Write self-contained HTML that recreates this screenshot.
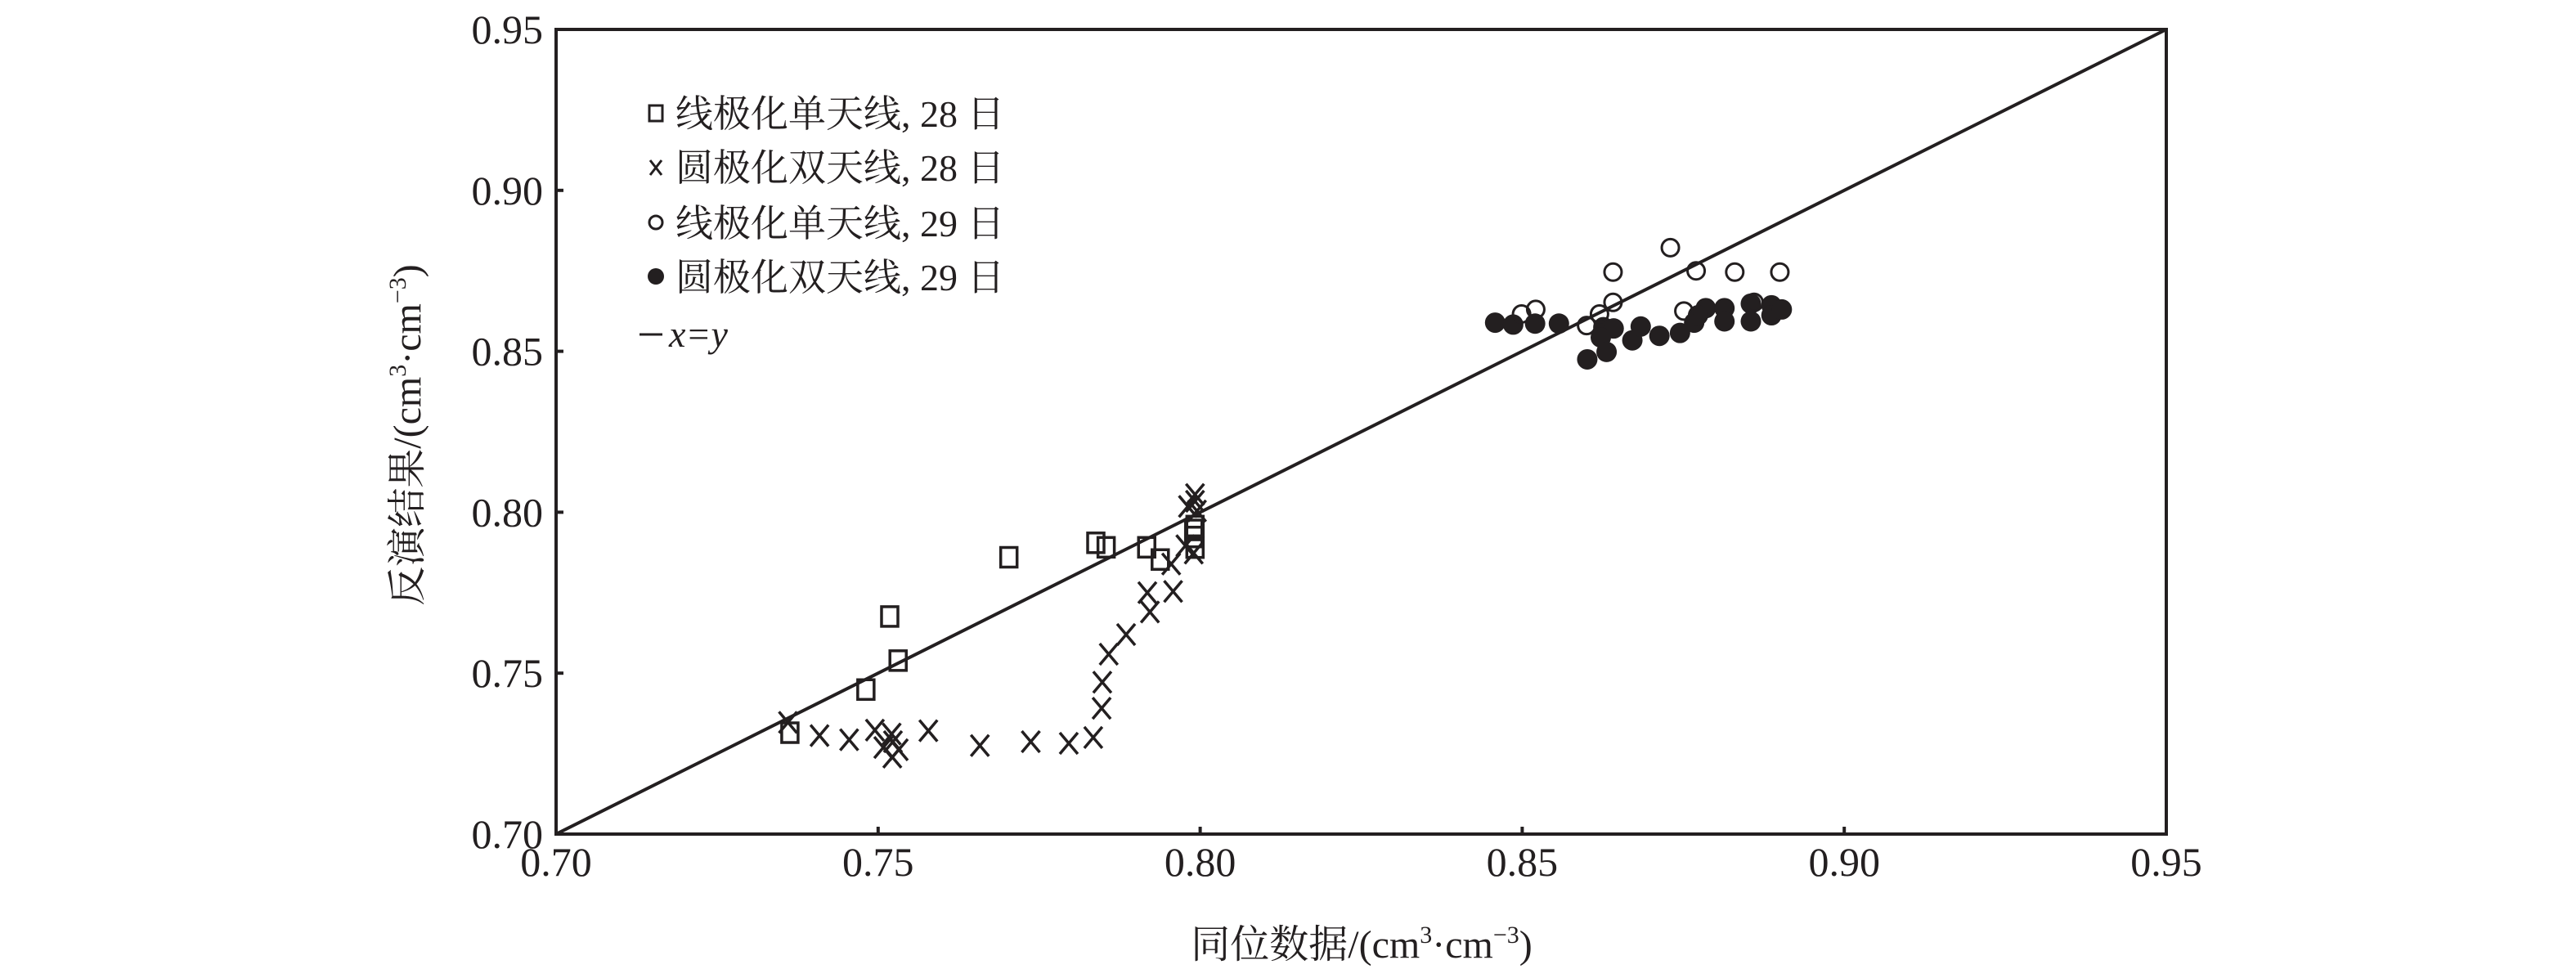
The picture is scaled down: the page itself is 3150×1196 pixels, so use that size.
<!DOCTYPE html>
<html><head><meta charset="utf-8"><style>
html,body{margin:0;padding:0;background:#fff;}
svg text{font-family:"Liberation Serif","Noto Serif CJK SC",serif;fill:#231f20;}
</style></head><body>
<svg id="chart" width="3150" height="1191" viewBox="0 0 3150 1191" xmlns="http://www.w3.org/2000/svg" font-family="'Liberation Serif','Noto Serif CJK SC',serif">
<rect width="3150" height="1191" fill="#fff"/>
<g id="marks"></g>
<g id="axes"></g>
</svg>
<script>
const xTicks=[0.70,0.75,0.80,0.85,0.90,0.95];
const yTicks=[0.70,0.75,0.80,0.85,0.90,0.95];
const tickLabels=["0.70","0.75","0.80","0.85","0.90","0.95"];
const sq28X=[0.7363,0.7481,0.7531,0.7518,0.7703,0.7838,0.7854,0.7917,0.7938,0.7992,0.7990,0.7990,0.7992];
const sq28Y=[0.7315,0.7449,0.7539,0.7676,0.7860,0.7905,0.7891,0.7891,0.7853,0.7890,0.7945,0.7923,0.7957];
const cr28X=[0.7360,0.7409,0.7455,0.7495,0.7521,0.7523,0.7508,0.7532,0.7522,0.7578,0.7658,0.7737,0.7796,0.7834,0.7847,0.7848,0.7858,0.7885,0.7922,0.7918,0.7958,0.7955,0.7977,0.7981,0.7992,0.7995,0.7990,0.7992];
const cr28Y=[0.7347,0.7306,0.7293,0.7323,0.7311,0.7287,0.7269,0.7262,0.7239,0.7321,0.7275,0.7287,0.7282,0.7300,0.7391,0.7472,0.7559,0.7620,0.7690,0.7750,0.7754,0.7839,0.7896,0.8018,0.8055,0.8004,0.7873,0.8034];
const oc29X=[0.8499,0.8521,0.8600,0.8620,0.8641,0.8641,0.8730,0.8770,0.8830,0.8900,0.8751,0.8860];
const oc29Y=[0.8616,0.8630,0.8580,0.8616,0.8746,0.8652,0.8822,0.8750,0.8746,0.8746,0.8625,0.8652];
const fc29X=[0.8458,0.8486,0.8520,0.8557,0.8626,0.8642,0.8622,0.8631,0.8601,0.8671,0.8684,0.8713,0.8745,0.8767,0.8785,0.8814,0.8814,0.8855,0.8855,0.8887,0.8887,0.8903,0.8773];
const fc29Y=[0.8589,0.8583,0.8586,0.8586,0.8575,0.8571,0.8543,0.8498,0.8475,0.8534,0.8577,0.8548,0.8557,0.8589,0.8634,0.8634,0.8593,0.8648,0.8593,0.8643,0.8612,0.8630,0.8612];

const L=680,R=2649,T=36,B=1020,X0=0.70,X1=0.95,Y0=0.70,Y1=0.95;
const sx=v=>L+(v-X0)/(X1-X0)*(R-L);
const sy=v=>B-(v-Y0)/(Y1-Y0)*(B-T);
const NS="http://www.w3.org/2000/svg";
const marks=document.getElementById('marks'),axes=document.getElementById('axes');
function mk(tag,attrs,parent){const e=document.createElementNS(NS,tag);for(const k in attrs)e.setAttribute(k,attrs[k]);parent.appendChild(e);return e;}
const C="#231f20";
const FF="Liberation Serif, Noto Serif CJK SC, serif";

let ln=mk('line',{x1:sx(0.70),y1:sy(0.70),x2:sx(0.95),y2:sy(0.95),stroke:C,'stroke-width':4},marks);



function drawSquare(x,y,p){return mk('rect',{x:x-10,y:y-12,width:20,height:24,fill:'none',stroke:C,'stroke-width':3.5},p);}
function drawCross(x,y,p){return mk('path',{d:`M${x-11},${y-13}L${x+11},${y+13}M${x+11},${y-13}L${x-11},${y+13}`,stroke:C,'stroke-width':3.5,fill:'none'},p);}
function drawOpen(x,y,p){return mk('circle',{cx:x,cy:y,r:10.5,fill:'none',stroke:C,'stroke-width':3},p);}
function drawFilled(x,y,p){return mk('circle',{cx:x,cy:y,r:12.5,fill:C},p);}

for(let i=0;i<sq28X.length;i++){const e=drawSquare(sx(sq28X[i]),sy(sq28Y[i]),marks);

}
for(let i=0;i<cr28X.length;i++){const e=drawCross(sx(cr28X[i]),sy(cr28Y[i]),marks);

}
for(let i=0;i<fc29X.length;i++){const e=drawFilled(sx(fc29X[i]),sy(fc29Y[i]),marks);

}
for(let i=0;i<oc29X.length;i++){const e=drawOpen(sx(oc29X[i]),sy(oc29Y[i]),marks);

}

let fr=mk('rect',{x:L,y:T,width:R-L,height:B-T,fill:'none',stroke:C,'stroke-width':4},axes);


xTicks.forEach((v,i)=>{const x=sx(v);
 const t=mk('line',{x1:x,y1:B,x2:x,y2:B-9,stroke:C,'stroke-width':4},axes);
 
 
 const tx=mk('text',{x:x,y:1071,'font-size':50,'text-anchor':'middle','font-family':FF},axes);tx.textContent=tickLabels[i];
 
 });
yTicks.forEach((v,i)=>{const y=sy(v);
 const t=mk('line',{x1:L,y1:y,x2:L+9,y2:y,stroke:C,'stroke-width':4},axes);
 
 
 const tx=mk('text',{x:664,y:y+17,'font-size':50,'text-anchor':'end','font-family':FF},axes);tx.textContent=tickLabels[i];
 
 });
</script>
<svg style="position:absolute;left:0;top:0" width="3150" height="1191" font-family="'Liberation Serif','Noto Serif CJK SC',serif">
<g font-size="46" fill="#231f20" font-family="'Liberation Serif','Noto Serif CJK SC',serif">
 <rect x="794" y="129" width="16" height="19" fill="none" stroke="#231f20" stroke-width="3"/>
 <text x="826" y="155">线极化单天线, 28 日</text>
 <path d="M795,196L809,214M809,196L795,214" stroke="#231f20" stroke-width="3"/>
 <text x="826" y="221">圆极化双天线, 28 日</text>
 <circle cx="802" cy="272" r="8" fill="none" stroke="#231f20" stroke-width="3"/>
 <text x="826" y="289">线极化单天线, 29 日</text>
 <circle cx="802" cy="338" r="10" fill="#231f20"/>
 <text x="826" y="355">圆极化双天线, 29 日</text>
 <line x1="782" y1="409" x2="810" y2="409" stroke="#231f20" stroke-width="3"/>
 <text x="818" y="424" font-style="italic">x=y</text>
</g>
<text x="1665" y="1171" font-size="48" text-anchor="middle">同位数据/(cm<tspan font-size="30" dy="-18">3</tspan><tspan dy="18">·cm</tspan><tspan font-size="30" dy="-18">−3</tspan><tspan dy="18">)</tspan></text>
<text transform="translate(514,532) rotate(-90)" font-size="48" text-anchor="middle">反演结果/(cm<tspan font-size="30" dy="-18">3</tspan><tspan dy="18">·cm</tspan><tspan font-size="30" dy="-18">−3</tspan><tspan dy="18">)</tspan></text>
</svg>
</body></html>
